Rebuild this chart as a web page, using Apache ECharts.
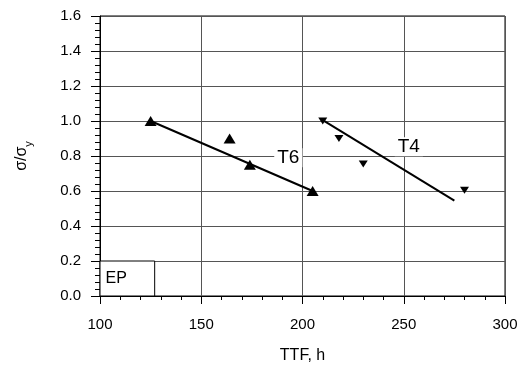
<!DOCTYPE html>
<html>
<head>
<meta charset="utf-8">
<script src="https://cdn.jsdelivr.net/npm/echarts@6/dist/echarts.min.js"></script>
<style>
  html, body { margin: 0; padding: 0; background: #fff; }
  #chart { width: 522px; height: 367px; }
</style>
</head>
<body>
<div id="chart"></div>
<script>
// T6 measured points (TTF, sigma/sigma_y)
const t6Points = [[125, 1.0], [164, 0.9], [174, 0.75], [205, 0.6]];
// T4 measured points
const t4Points = [[210, 1.0], [218, 0.9], [230, 0.755], [280, 0.605]];
// fitted lines (end points)
const t6Fit = [[125, 1.0], [205, 0.6]];
const t4Fit = [[209, 1.012], [275, 0.545]];
// series tags placed on the plot
const tagLabels = ["T6", "T4"];
const tagPositions = [[193, 0.79], [252.5, 0.853]];
// EP box in data coordinates
const epBox = [[100, 0], [127, 0.2]];

const FONT = "Liberation Sans, Arial, sans-serif";
const gridColor = "#555";

const chart = echarts.init(document.getElementById("chart"), null, { renderer: "canvas" });

// second x axis: major grid lines and the longer major ticks
const majorX = {
  type: "value", min: 100, max: 300, interval: 50, position: "bottom",
  axisLine: { show: true, lineStyle: { color: "#000" } },
  axisLabel: { show: false },
  splitLine: { show: true, lineStyle: { color: gridColor, width: 1 } },
  axisTick: { show: true, length: 8, lineStyle: { color: "#000", width: 1 } },
};
// second y axis: only the minor ticks
const minorY = {
  type: "value", min: 0, max: 1.6, interval: 0.04, position: "left",
  axisLine: { show: true, lineStyle: { color: "rgba(0,0,0,0)" } },
  axisLabel: { show: false }, splitLine: { show: false },
  axisTick: { show: true, length: 5, lineStyle: { color: "#000", width: 1 } },
};

chart.setOption({
  animation: false,
  grid: {
    left: 100, right: 17, top: 16, bottom: 71,
    outerBoundsMode: "none",
    show: true, borderColor: "#000", borderWidth: 1,
  },
  xAxis: [{
    type: "value",
    min: 100, max: 300, interval: 10,
    name: "TTF, h",
    nameLocation: "middle",
    nameGap: 52,
    nameTextStyle: { color: "#000", fontFamily: FONT, fontSize: 16 },
    axisLine: { lineStyle: { color: "#000", width: 1 } },
    axisTick: { show: true, length: 4, lineStyle: { color: "#000" } },
    splitLine: { show: false },
    axisLabel: {
      color: "#000", fontFamily: FONT, fontSize: 15, margin: 21,
      showMinLabel: true, showMaxLabel: true, hideOverlap: false,
      formatter: (v) => (v % 50 === 0 ? String(v) : ""),
    },
  }, majorX],
  yAxis: [{
    type: "value",
    min: 0, max: 1.6, interval: 0.2,
    name: "{a|σ/σ}{s|y}",
    nameLocation: "middle",
    nameGap: 70,
    nameTextStyle: {
      color: "#000", fontFamily: FONT, fontSize: 16,
      rich: {
        a: { fontFamily: FONT, fontSize: 16, color: "#000", lineHeight: 22, verticalAlign: "bottom" },
        s: { fontFamily: FONT, fontSize: 11, color: "#000", lineHeight: 22, verticalAlign: "bottom", padding: [0, 0, -4, 0] },
      },
    },
    axisLine: { show: true, lineStyle: { color: "#000", width: 1 } },
    axisTick: { show: true, length: 9, lineStyle: { color: "#000" } },
    splitLine: { show: true, lineStyle: { color: gridColor, width: 1 } },
    axisLabel: {
      color: "#000", fontFamily: FONT, fontSize: 15, margin: 19,
      formatter: (v) => v.toFixed(1),
    },
  }, minorY],
  series: [
    {
      name: "EP",
      type: "line",
      data: [],
      markArea: {
        silent: true,
        itemStyle: { color: "#fff", borderColor: "#000", borderWidth: 1 },
        label: {
          show: true, position: "insideLeft", distance: 6,
          color: "#000", fontFamily: FONT, fontSize: 16,
        },
        data: [[
          { name: "EP", xAxis: epBox[0][0], yAxis: epBox[0][1] },
          { xAxis: epBox[1][0], yAxis: epBox[1][1] },
        ]],
      },
    },
    {
      name: "T6 fit",
      type: "line",
      data: t6Fit,
      symbol: "none",
      lineStyle: { color: "#000", width: 2 },
      z: 3,
    },
    {
      name: "T4 fit",
      type: "line",
      data: t4Fit,
      symbol: "none",
      lineStyle: { color: "#000", width: 2 },
      z: 3,
    },
    {
      name: "T6",
      type: "scatter",
      data: t6Points,
      symbol: "triangle",
      symbolSize: [12, 10],
      itemStyle: { color: "#000", opacity: 1 },
      z: 4,
    },
    {
      name: "T4",
      type: "scatter",
      data: t4Points,
      symbol: "triangle",
      symbolRotate: 180,
      symbolSize: [9, 7],
      itemStyle: { color: "#000", opacity: 1 },
      z: 4,
    },
    {
      name: "tags",
      type: "scatter",
      data: tagPositions.map((p, i) => ({ value: p, name: tagLabels[i] })),
      symbolSize: 0,
      itemStyle: { opacity: 1 },
      label: {
        show: true, position: "inside",
        formatter: (p) => p.name,
        color: "#000", fontFamily: FONT, fontSize: 19,
        backgroundColor: "#fff", padding: [0, 3, 0, 3],
      },
      z: 5,
    },
  ],
});
</script>
</body>
</html>
